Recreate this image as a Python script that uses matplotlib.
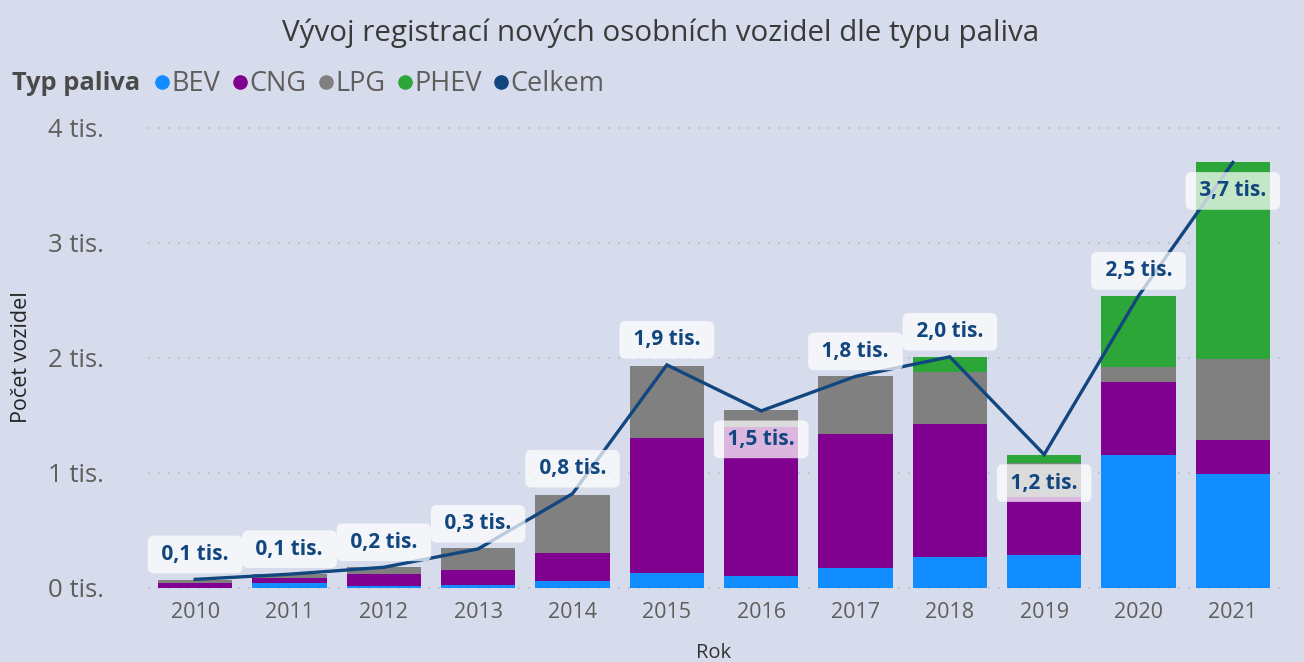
import matplotlib
matplotlib.use("Agg")
import matplotlib.pyplot as plt
from matplotlib.lines import Line2D
import numpy as np

years = ["2010", "2011", "2012", "2013", "2014", "2015", "2016", "2017", "2018", "2019", "2020", "2021"]
bev = [0.003, 0.04, 0.015, 0.025, 0.06, 0.13, 0.10, 0.17, 0.27, 0.29, 1.16, 0.99]
cng = [0.04, 0.045, 0.11, 0.13, 0.24, 1.17, 1.30, 1.17, 1.16, 0.50, 0.63, 0.30]
lpg = [0.03, 0.035, 0.055, 0.19, 0.51, 0.63, 0.15, 0.50, 0.45, 0.30, 0.13, 0.70]
phev = [0.0, 0.0, 0.0, 0.0, 0.0, 0.0, 0.0, 0.0, 0.13, 0.07, 0.62, 1.71]
celkem = [0.075, 0.12, 0.18, 0.34, 0.82, 1.94, 1.54, 1.84, 2.01, 1.16, 2.54, 3.70]
labels = ["0,1 tis.", "0,1 tis.", "0,2 tis.", "0,3 tis.", "0,8 tis.", "1,9 tis.", "1,5 tis.",
          "1,8 tis.", "2,0 tis.", "1,2 tis.", "2,5 tis.", "3,7 tis."]
label_below = [False, False, False, False, False, False, True, False, False, True, False, True]
yticks = [0, 1, 2, 3, 4]
ytick_labels = ["0 tis.", "1 tis.", "2 tis.", "3 tis.", "4 tis."]

BG = "#D6DCEC"
C_BEV = "#118DFF"
C_CNG = "#800090"
C_LPG = "#808080"
C_PHEV = "#2CA638"
C_LINE = "#12467F"
FONT = ["Open Sans", "DejaVu Sans"]

plt.rcParams["font.family"] = FONT

fig = plt.figure(figsize=(13.04, 6.62), dpi=100, facecolor=BG)
ax = fig.add_axes([148/1304, 1-590/662, (1280-148)/1304, (590-122)/662])
ax.set_facecolor(BG)

x = np.arange(len(years))
w = 0.785
b1 = np.array(bev)
b2 = b1 + np.array(cng)
b3 = b2 + np.array(lpg)
ax.bar(x, bev, w, color=C_BEV, zorder=2)
ax.bar(x, cng, w, bottom=b1, color=C_CNG, zorder=2)
ax.bar(x, lpg, w, bottom=b2, color=C_LPG, zorder=2)
ax.bar(x, phev, w, bottom=b3, color=C_PHEV, zorder=2)
ax.plot(x, celkem, color=C_LINE, lw=2.4, zorder=3, solid_joinstyle="miter")

for i, (v, lab) in enumerate(zip(celkem, labels)):
    off = -20.5 if label_below[i] else 18
    ax.annotate(" " + lab + " ", (x[i], v), xytext=(0, off), textcoords="offset points",
                ha="center", va="center", fontsize=15, fontweight="bold", color=C_LINE,
                zorder=5,
                bbox=dict(boxstyle="round,pad=0.4,rounding_size=0.3", fc="white", ec="none", alpha=0.72))

ax.set_xlim(-0.5, 11.5)
ax.set_ylim(-0.0174, 4.052)
ax.set_xticks(x)
ax.set_xticklabels(years, fontsize=15.5, color="#605E5C")
ax.set_yticks(yticks)
ax.set_yticklabels(ytick_labels, fontsize=18.5, color="#605E5C")
ax.tick_params(axis="both", length=0)
ax.tick_params(axis="x", pad=9)
ax.tick_params(axis="y", pad=32)
for s in ax.spines.values():
    s.set_visible(False)
ax.yaxis.grid(True, linestyle=(0, (1, 5)), color="#B8BCC8", lw=1.2, zorder=0)
ax.set_axisbelow(True)
ax.set_xlabel("Rok", fontsize=14.5, color="#333333", labelpad=14)
fig.text(22/1304, 1-357/662, "Počet vozidel", rotation=90, ha="center", va="center",
         fontsize=15.5, color="#252423")

fig.text(661/1304, 1-33/662, "Vývoj registrací nových osobních vozidel dle typu paliva",
         ha="center", va="center", fontsize=21.3, color="#3A3A3A")

fig.text(12/1304, 1-83/662, "Typ paliva", ha="left", va="center", fontsize=18.3,
         fontweight="bold", color="#4A4A4A")
names = ["BEV", "CNG", "LPG", "PHEV", "Celkem"]
cols = [C_BEV, C_CNG, C_LPG, C_PHEV, C_LINE]
handles = [Line2D([], [], marker="o", ls="none", color=c, markersize=9.5) for c in cols]
fig.legend(handles, names, loc="center left", bbox_to_anchor=(156/1304, 1-84/662), ncol=5,
           frameon=False, fontsize=19.5, handlelength=0.45, handletextpad=0.12,
           columnspacing=0.5, labelcolor="#605E5C", borderaxespad=0, borderpad=0)

fig.savefig("out.png", dpi=100, facecolor=BG)
